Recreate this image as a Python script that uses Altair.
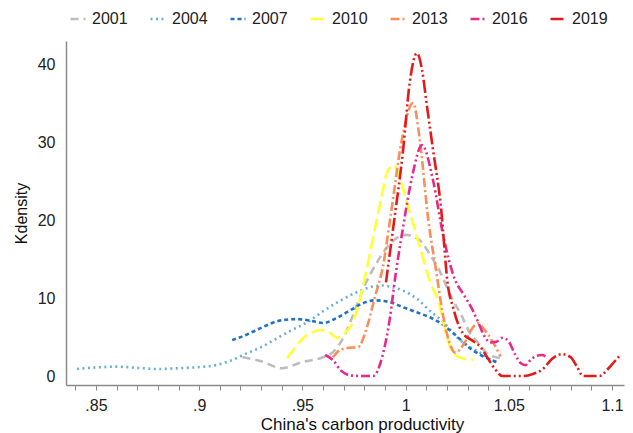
import altair as alt
import pandas as pd

# ---- data ----
years = ["2001", "2004", "2007", "2010", "2013", "2016", "2019"]
colors = ["#bdbdbd", "#6baed6", "#2171c5", "#ffff33", "#fc8d59", "#e7298a", "#e31a1c"]
dashes = [[8, 5], [2, 3.5], [4, 3], [13, 5], [9, 3, 2, 3], [9, 3, 2, 3, 2, 3], [13, 3, 2, 3, 2, 3]]

x2001 = [0.921, 0.93, 0.94, 0.95, 0.96, 0.965, 0.97, 0.975, 0.98, 0.986, 0.992, 1.0, 1.006,
         1.012, 1.017, 1.022, 1.027, 1.031, 1.035, 1.04, 1.046]
y2001 = [2.4, 1.9, 1.0, 1.8, 2.4, 3.1, 5.0, 8.1, 11.5, 14.5, 16.8, 18.1, 17.6,
         15.5, 13.2, 10.2, 7.8, 5.6, 4.3, 2.8, 2.3]

x2004 = [0.8408, 0.85, 0.86, 0.87, 0.88, 0.89, 0.9, 0.908, 0.916, 0.923, 0.93, 0.938, 0.945,
         0.953, 0.96, 0.968, 0.976, 0.983, 0.989, 0.995, 1.0, 1.006, 1.012, 1.018, 1.024,
         1.03, 1.036, 1.042, 1.044]
y2004 = [0.9, 1.1, 1.2, 1.05, 0.9, 1.0, 1.15, 1.4, 2.05, 2.9, 3.7, 4.9, 5.9,
         7.0, 8.3, 9.6, 10.7, 11.4, 11.6, 11.3, 10.8, 9.8, 8.3, 7.0, 5.2,
         3.9, 3.0, 2.0, 1.8]

x2007 = [0.916, 0.923, 0.931, 0.939, 0.947, 0.954, 0.96, 0.967, 0.973, 0.979, 0.985, 0.992,
         0.998, 1.005, 1.012, 1.018, 1.024, 1.031, 1.037, 1.044]
y2007 = [4.6, 5.3, 6.3, 7.1, 7.3, 7.1, 6.8, 7.5, 8.4, 9.3, 9.7, 9.5,
         8.9, 8.2, 7.5, 6.6, 5.3, 3.6, 2.6, 1.8]

x2010 = [0.9426, 0.947, 0.951, 0.955, 0.9586, 0.963, 0.9668, 0.971, 0.9746, 0.978, 0.981,
         0.984, 0.988, 0.9915, 0.9945, 0.997, 1.0007, 1.006, 1.012, 1.016, 1.02, 1.023,
         1.027, 1.033]
y2010 = [2.3, 3.8, 5.0, 5.6, 5.9, 5.6, 4.9, 5.6, 7.0, 10.0, 13.5,
         17.4, 22.5, 26.4, 27.0, 25.5, 22.2, 17.4, 12.0, 9.5, 5.0, 3.0,
         2.3, 2.1]

x2013 = [0.9648, 0.968, 0.972, 0.977, 0.981, 0.985, 0.989, 0.993, 0.998, 1.0036, 1.007,
         1.011, 1.0145, 1.018, 1.021, 1.024, 1.028, 1.032, 1.035, 1.038, 1.042, 1.046]
y2013 = [2.4, 3.3, 3.6, 3.7, 6.0, 10.0, 14.0, 21.0, 30.0, 35.0, 30.0,
         20.0, 14.0, 8.0, 4.5, 3.0, 4.0, 6.0, 6.8, 6.0, 4.5, 2.5]

x2016 = [0.961, 0.965, 0.9683, 0.973, 0.978, 0.9843, 0.9886, 0.9925, 0.995, 0.9988, 1.0031,
         1.008, 1.0133, 1.018, 1.024, 1.028, 1.032, 1.035, 1.038, 1.041, 1.044, 1.047,
         1.05, 1.053, 1.056, 1.058, 1.061, 1.066, 1.068]
y2016 = [2.7, 2.0, 0.8, 0.1, 0.0, 0.0, 2.4, 7.6, 12.7, 19.1, 25.5,
         29.6, 25.1, 18.3, 12.3, 10.5, 8.7, 7.0, 5.2, 4.3, 4.4, 4.9,
         4.4, 2.8, 1.6, 1.4, 2.2, 2.7, 2.5]

x2019 = [0.9905, 0.994, 0.9988, 1.002, 1.0055, 1.008, 1.0104, 1.0133, 1.017, 1.0206, 1.023,
         1.025, 1.028, 1.032, 1.036, 1.04, 1.043, 1.047, 1.052, 1.057, 1.062, 1.066,
         1.0714, 1.0758, 1.08, 1.083, 1.086, 1.09, 1.094, 1.098, 1.101, 1.104]
y2019 = [12.0, 19.0, 29.0, 37.6, 41.4, 39.2, 34.5, 29.0, 22.0, 11.4, 8.8,
         7.0, 5.4, 4.6, 3.8, 2.2, 1.0, 0.0, 0.0, 0.0, 0.3, 0.8,
         2.3, 2.8, 2.4, 1.2, 0.0, 0.0, 0.0, 0.9, 1.8, 2.7]

x_ticks = [0.84, 0.85, 0.86, 0.87, 0.88, 0.89, 0.9, 0.91, 0.92, 0.93, 0.94, 0.95, 0.96,
           0.97, 0.98, 0.99, 1.0, 1.01, 1.02, 1.03, 1.04, 1.05, 1.06, 1.07, 1.08, 1.09, 1.1]
x_label_values = [0.85, 0.9, 0.95, 1.0, 1.05, 1.1]
x_label_texts = [".85", ".9", ".95", "1", "1.05", "1.1"]
y_ticks = [0, 10, 20, 30, 40]

series_x = [x2001, x2004, x2007, x2010, x2013, x2016, x2019]
series_y = [y2001, y2004, y2007, y2010, y2013, y2016, y2019]

rows = []
for yr, xs, ys in zip(years, series_x, series_y):
    for i, (a, b) in enumerate(zip(xs, ys)):
        rows.append({"year": yr, "x": a, "y": b, "i": i})
df = pd.DataFrame(rows)

vals = "[" + ",".join(repr(v) for v in x_label_values) + "]"
txts = "[" + ",".join("'" + t + "'" for t in x_label_texts) + "]"
label_expr = f"indexof({vals}, datum.value) >= 0 ? {txts}[indexof({vals}, datum.value)] : ''"

FONT = "Liberation Sans"

chart = alt.Chart(df).mark_line(strokeWidth=2.6, interpolate="monotone").encode(
    x=alt.X("x:Q",
            scale=alt.Scale(domain=[0.8355, 1.1058], nice=False, zero=False),
            axis=alt.Axis(values=x_ticks, labelExpr=label_expr, grid=False,
                          title="China's carbon productivity", titleX=296,
                          titleFontSize=17,
                          tickSize=5, labelPadding=7, titlePadding=3,
                          labelOverlap=False, labelFlush=False)),
    y=alt.Y("y:Q",
            scale=alt.Scale(domain=[-1.15, 42.95], nice=False, zero=False),
            axis=alt.Axis(values=y_ticks, grid=False, ticks=False, title="Kdensity",
                          labelPadding=11, titlePadding=8)),
    color=alt.Color("year:N", scale=alt.Scale(domain=years, range=colors),
                    legend=alt.Legend(title=None)),
    strokeDash=alt.StrokeDash("year:N", scale=alt.Scale(domain=years, range=dashes),
                              legend=alt.Legend(title=None)),
    order="i:Q",
).properties(
    width=558, height=344,
    autosize=alt.AutoSizeParams(type="none"),
    padding={"left": 58, "top": 33, "right": 1, "bottom": 48},
).configure_axis(
    labelFont=FONT, titleFont=FONT, labelFontSize=16, titleFontSize=16,
    labelColor="#222", titleColor="#111", titleFontWeight="normal",
    domainColor="#8a8a8a", tickColor="#8a8a8a", domainWidth=1.5, tickWidth=1,
).configure_legend(
    orient="none", legendX=3, legendY=-31, direction="horizontal",
    labelFont=FONT, labelFontSize=16, labelColor="#222",
    symbolType="stroke", symbolSize=225, symbolStrokeWidth=2.5,
    labelOffset=5, columnPadding=17, padding=0,
).configure_view(stroke=None)

chart.save("out.html", embed_options={"renderer": "svg", "actions": False})
